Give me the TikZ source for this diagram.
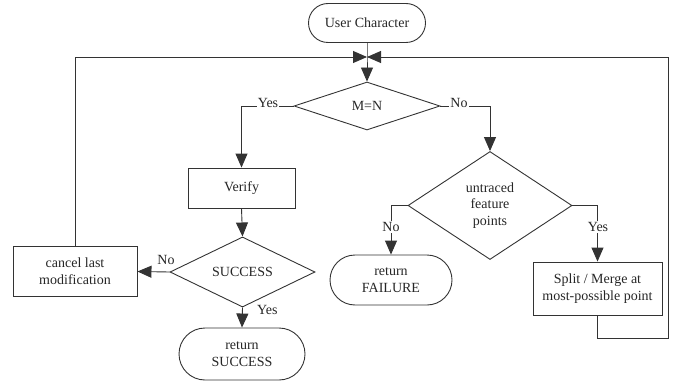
\documentclass[tikz,border=0pt]{standalone}
\usepackage{fontspec}
\setmainfont{Liberation Serif}
\usetikzlibrary{arrows.meta}
\usetikzlibrary{shapes.geometric}
\usetikzlibrary{shapes.misc}

\begin{document}
\begin{tikzpicture}[x=1pt, y=-1pt,
	every node/.style={font=\rmfamily\fontsize{14}{16.7}\selectfont, text=black!85, align=center, inner sep=0pt},
	flow/.style={draw=black!80, line width=0.9pt},
	arrow/.style={flow, -{Triangle[length=14pt, width=12pt]}},
	terminal/.style={flow, rounded rectangle},
	process/.style={flow, rectangle},
	decision/.style={flow, diamond},
	lbl/.style={fill=white, inner sep=1pt}]

	% page size
	\useasboundingbox (0,0) rectangle (674,385);

	% start and first test
	\node[terminal, minimum width=117pt, minimum height=39pt] (user) at (367,23) {User Character};
	\node[decision, minimum width=146pt, minimum height=48pt] (mn) at (367,106) {M=N};

	% yes branch: verify, then test the result
	\node[process, minimum width=107pt, minimum height=40pt] (verify) at (241.5,188) {Verify};
	\node[decision, minimum width=145pt, minimum height=48pt] (success) at (242.5,272) {SUCCESS};
	\node[process, minimum width=124pt, minimum height=50pt] (cancel) at (75,271.5) {cancel last\\modification};
	\node[terminal, minimum width=126pt, minimum height=52pt] (retsucc) at (242,354) {return\\SUCCESS};

	% no branch: look for untraced points
	\node[decision, minimum width=164pt, minimum height=108pt] (untraced) at (490,205.5) {untraced\\feature\\points};
	\node[terminal, minimum width=122pt, minimum height=50pt] (retfail) at (391,280) {return\\FAILURE};
	\node[process, minimum width=129pt, minimum height=53pt] (split) at (597.5,288.5) {Split / Merge at\\most-possible point};

	% loop back to the top
	\coordinate (join) at (367,57);
	\coordinate (back) at (668,338);

	\draw[arrow] (user.south) -- (join) -- (mn.north);
	\draw[arrow] (cancel.north) |- (join);
	\draw[arrow] (split.south) |- (back) |- (join);

	\draw[arrow] (mn.west) -| (verify.north);
	\draw[arrow] (mn.east) -| (untraced.north);
	\draw[arrow] (verify.south) -- (success.north);
	\draw[arrow] (success.west) -- (cancel.east);
	\draw[arrow] (success.south) -- (retsucc.north);
	\draw[arrow] (untraced.west) -| (retfail.north);
	\draw[arrow] (untraced.east) -| (split.north);

	% branch labels
	\node[lbl, anchor=base] (mnyes) at (268,107) {Yes};
	\node[lbl, anchor=base] (mnno) at (459,107) {No};
	\node[anchor=south] (sucno) at (166,265) {No};
	\node[anchor=west] (sucyes) at (257,310) {Yes};
	\node[lbl] (untno) at (391,227) {No};
	\node[lbl] (untyes) at (598,227) {Yes};

\end{tikzpicture}
\end{document}
